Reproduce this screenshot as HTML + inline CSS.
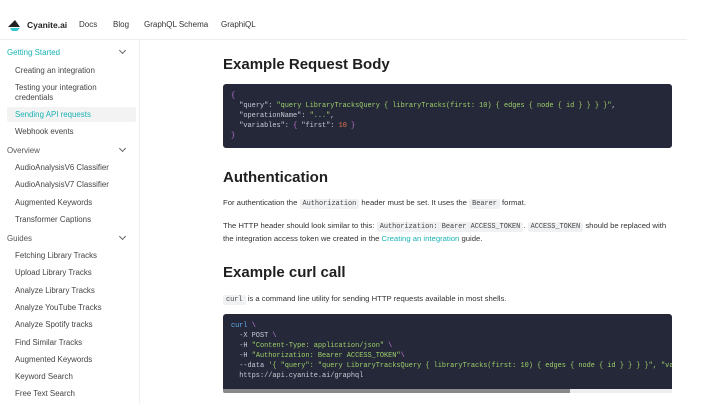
<!DOCTYPE html>
<html><head><meta charset="utf-8"><style>
*{margin:0;padding:0;box-sizing:border-box}
body{width:712px;height:419px;overflow:hidden;background:#fff;font-family:"Liberation Sans",sans-serif;color:#222;position:relative}
.a{position:absolute;white-space:nowrap}
.nav{font-size:8px;color:#333;top:20px}
.hdr{position:absolute;left:0;top:39px;width:687px;height:1px;background:#eee}
.side{position:absolute;left:139px;top:40px;width:1px;height:363px;background:#eee}
.s{font-size:7.9px;color:#444;left:15px}
.g{font-size:7.9px;color:#555;left:7px}
.chev{position:absolute;left:120px;width:5px;height:5px;border-right:1px solid #666;border-bottom:1px solid #666;transform:rotate(45deg)}
h2{position:absolute;left:223px;font-size:15px;font-weight:bold;color:#1f1f1f;white-space:nowrap}
.p{font-size:7.7px;color:#333;left:223px}
code{font-family:"Liberation Mono",monospace;font-size:6.9px;background:#f0f1f3;padding:1px 3px;border-radius:2px;color:#444}
.code{position:absolute;left:223px;width:449px;background:#242838;border-radius:3px;font-family:"Liberation Mono",monospace;font-size:6.9px;line-height:10px;color:#c8ccd8;padding:6px 8px;white-space:pre;overflow:hidden}
.k{color:#c8ccd8}.st{color:#9fcf6a}.pu{color:#c678dd}.n{color:#e8744f}.b{color:#61afef}
a{color:#1ab2b5;text-decoration:none}
</style></head><body>
<svg class="a" style="left:6px;top:19px" width="16" height="12"><polygon points="2,8 9,1 14,8" fill="#222"/><polygon points="4,9 14,9 11,12 6,12" fill="#36c6d2"/></svg>
<div class="a" style="left:27px;top:20px;font-size:8.5px;font-weight:bold;color:#222">Cyanite.ai</div>
<div class="a nav" style="left:79px">Docs</div>
<div class="a nav" style="left:113px">Blog</div>
<div class="a nav" style="left:144px">GraphQL Schema</div>
<div class="a nav" style="left:221px">GraphiQL</div>
<div class="hdr"></div><div class="side"></div>

<div class="a g" style="top:48px;color:#1ab2b5">Getting Started</div><div class="chev" style="top:48px"></div>
<div class="a s" style="top:66px">Creating an integration</div>
<div class="a s" style="top:83px;line-height:10px">Testing your integration<br>credentials</div>
<div style="position:absolute;left:7px;top:107px;width:129px;height:15px;background:#f3f3f4;border-radius:2px"></div>
<div class="a s" style="top:110px;color:#1ab2b5">Sending API requests</div>
<div class="a s" style="top:127px">Webhook events</div>
<div class="a g" style="top:146px">Overview</div><div class="chev" style="top:146px"></div>
<div class="a s" style="top:163px">AudioAnalysisV6 Classifier</div>
<div class="a s" style="top:180px">AudioAnalysisV7 Classifier</div>
<div class="a s" style="top:198px">Augmented Keywords</div>
<div class="a s" style="top:215px">Transformer Captions</div>
<div class="a g" style="top:234px">Guides</div><div class="chev" style="top:234px"></div>
<div class="a s" style="top:251px">Fetching Library Tracks</div>
<div class="a s" style="top:268px">Upload Library Tracks</div>
<div class="a s" style="top:286px">Analyze Library Tracks</div>
<div class="a s" style="top:303px">Analyze YouTube Tracks</div>
<div class="a s" style="top:320px">Analyze Spotify tracks</div>
<div class="a s" style="top:338px">Find Similar Tracks</div>
<div class="a s" style="top:355px">Augmented Keywords</div>
<div class="a s" style="top:372px">Keyword Search</div>
<div class="a s" style="top:389px">Free Text Search</div>

<h2 style="top:56px">Example Request Body</h2>
<div class="code" style="top:84px;height:64px;padding-top:7px"><span class="pu">{</span>
  <span class="k">"query"</span>: <span class="st">"query LibraryTracksQuery { libraryTracks(first: 10) { edges { node { id } } } }"</span>,
  <span class="k">"operationName"</span>: <span class="st">"..."</span>,
  <span class="k">"variables"</span>: <span class="pu">{</span> <span class="k">"first"</span>: <span class="n">10</span> <span class="pu">}</span>
<span class="pu">}</span></div>

<h2 style="top:169px">Authentication</h2>
<div class="a p" style="top:198px">For authentication the <code>Authorization</code> header must be set. It uses the <code>Bearer</code> format.</div>
<div class="a p" style="top:221px">The HTTP header should look similar to this: <code>Authorization: Bearer ACCESS_TOKEN</code>. <code>ACCESS_TOKEN</code> should be replaced with</div>
<div class="a p" style="top:234px">the integration access token we created in the <a>Creating an integration</a> guide.</div>

<h2 style="top:264px">Example curl call</h2>
<div class="a p" style="top:294px"><code>curl</code> is a command line utility for sending HTTP requests available in most shells.</div>
<div class="code" style="top:314px;height:76px;padding-top:7px;border-radius:3px 3px 0 0"><span class="b">curl</span> <span class="pu">\</span>
  -X POST <span class="pu">\</span>
  -H <span class="st">"Content-Type: application/json"</span> <span class="pu">\</span>
  -H <span class="st">"Authorization: Bearer ACCESS_TOKEN"</span><span class="pu">\</span>
  --data <span class="st">'{ "query": "query LibraryTracksQuery { libraryTracks(first: 10) { edges { node { id } } } }", "variables": {} }'</span> <span class="pu">\</span>
  https://api.cyanite.ai/graphql</div>
<div style="position:absolute;left:223px;top:389px;width:449px;height:4px;background:#eee"></div>
<div style="position:absolute;left:223px;top:389px;width:347px;height:4px;background:#8a8a8a;border-radius:0 0 0 2px"></div>
</body></html>
